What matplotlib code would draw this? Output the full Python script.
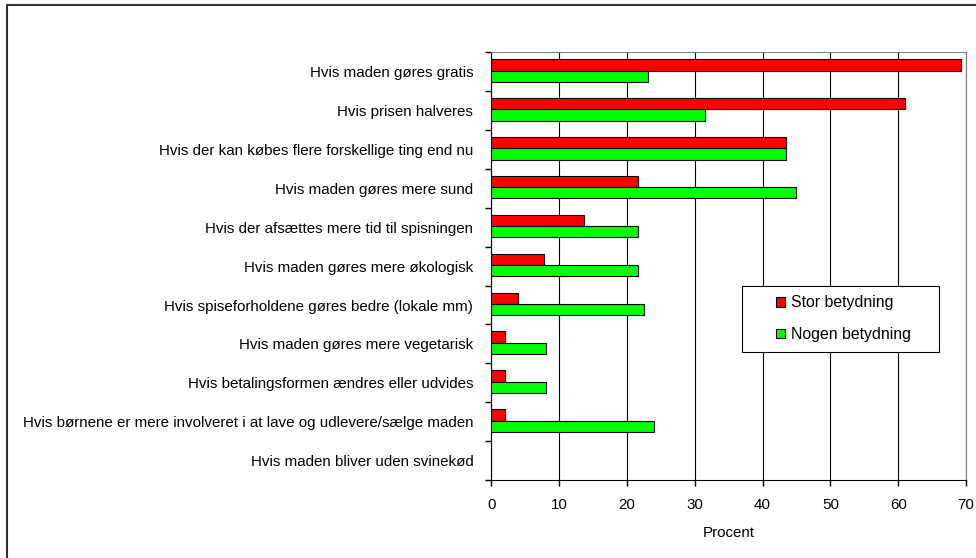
import numpy as np
import matplotlib
matplotlib.use("Agg")
import matplotlib.pyplot as plt
from matplotlib.patches import Rectangle

plt.rcParams['font.family'] = ['Liberation Sans', 'DejaVu Sans']

categories = [
    "Hvis maden gøres gratis",
    "Hvis prisen halveres",
    "Hvis der kan købes flere forskellige ting end nu",
    "Hvis maden gøres mere sund",
    "Hvis der afsættes mere tid til spisningen",
    "Hvis maden gøres mere økologisk",
    "Hvis spiseforholdene gøres bedre (lokale mm)",
    "Hvis maden gøres mere vegetarisk",
    "Hvis betalingsformen ændres eller udvides",
    "Hvis børnene er mere involveret i at lave og udlevere/sælge maden",
    "Hvis maden bliver uden svinekød",
]
stor = [69.3, 61.0, 43.4, 21.6, 13.7, 7.8, 4.0, 2.0, 2.0, 2.0, 0.0]
nogen = [23.1, 31.5, 43.4, 45.0, 21.6, 21.6, 22.5, 8.0, 8.0, 24.0, 0.0]
xticks = [0, 10, 20, 30, 40, 50, 60, 70]

FS = 10.9

fig = plt.figure(figsize=(9.76, 5.58), dpi=100)
ax = fig.add_axes([0.5034, 0.1398, 0.9898 - 0.5034, 0.9063 - 0.1398])

y = np.arange(len(categories))
h = 0.29
ax.barh(y - h / 2 - 0.03, stor, height=h, color='#ff0000', edgecolor='black',
        linewidth=0.8, label='Stor betydning', zorder=3)
ax.barh(y + h / 2 - 0.03, nogen, height=h, color='#00ff00', edgecolor='black',
        linewidth=0.8, label='Nogen betydning', zorder=3)

ax.set_xlim(0, 70)
ax.set_ylim(len(categories) - 0.5, -0.5)

# category labels at centres, tick marks at boundaries
ax.set_yticks(np.arange(-0.5, len(categories), 1.0))
ax.set_yticklabels([])
ax.tick_params(axis='y', which='major', direction='out', length=4, width=1)
ax.set_yticks(y, minor=True)
ax.set_yticklabels(categories, minor=True, fontsize=FS)
ax.tick_params(axis='y', which='minor', length=0, pad=13)

ax.set_xticks(xticks)
ax.set_xticklabels([str(v) for v in xticks], fontsize=FS)
ax.tick_params(axis='x', direction='out', length=4, width=1, pad=9)
ax.set_xlabel('Procent', fontsize=FS, labelpad=10)

ax.grid(axis='x', color='black', linewidth=0.8, zorder=0)
ax.set_axisbelow(True)
for s in ['top', 'right']:
    ax.spines[s].set_color('#808080')
for s in ['left', 'bottom']:
    ax.spines[s].set_color('black')

# legend box drawn separately so its padding can match
fig.patches.append(Rectangle((742 / 976, 1 - 352 / 558), 197 / 976, 66 / 558,
                             transform=fig.transFigure, facecolor='white',
                             edgecolor='black', linewidth=0.8, zorder=4))
leg = ax.legend(loc='upper left', bbox_to_anchor=(776 / 976, 1 - 295.5 / 558),
                bbox_transform=fig.transFigure, fontsize=11.4, frameon=False,
                handlelength=0.55, handleheight=0.55, handletextpad=0.4,
                borderpad=0, labelspacing=1.05, borderaxespad=0)
leg.set_zorder(5)
fig.legends.append(leg)
ax.get_legend().remove()

# outer chart border
fig.patches.append(Rectangle((7 / 976, -0.1), 1.2, 1 - 5 / 558 + 0.1,
                             transform=fig.transFigure, fill=False,
                             edgecolor='#333333', linewidth=1.5))

fig.savefig('out.png', dpi=100)
